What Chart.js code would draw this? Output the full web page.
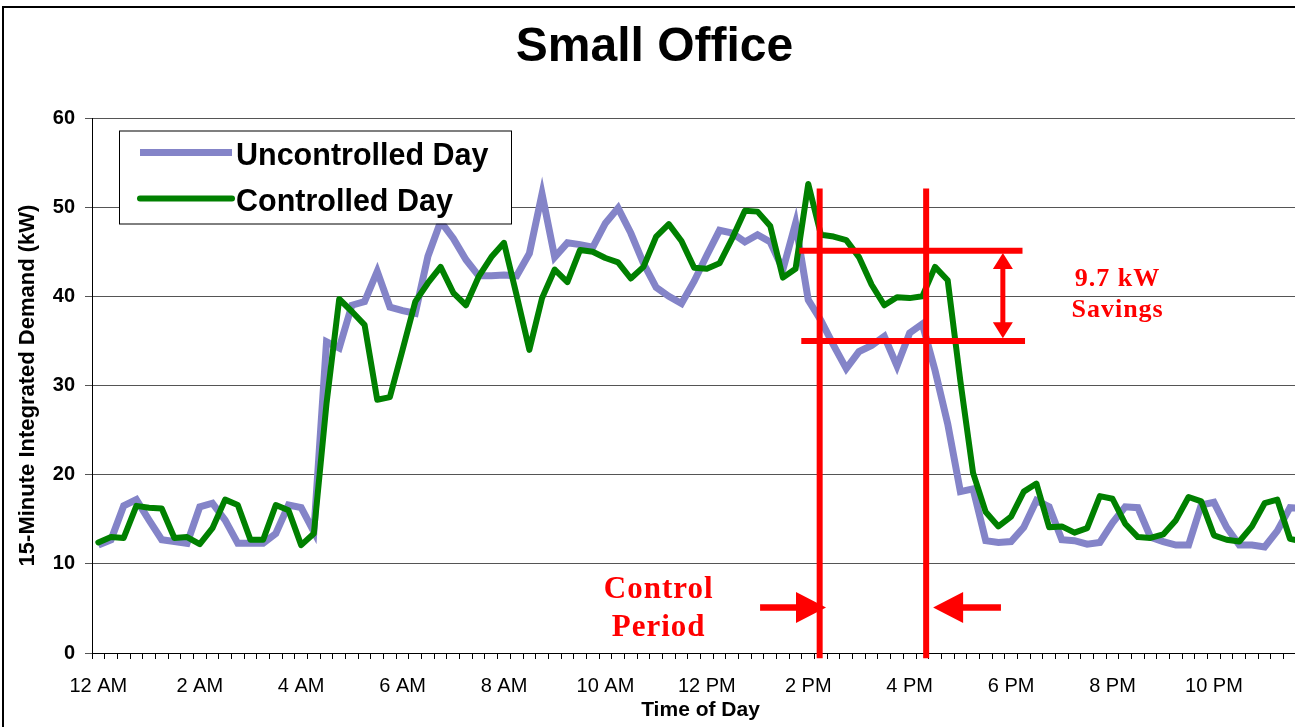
<!DOCTYPE html>
<html>
<head>
<meta charset="utf-8">
<title>Small Office</title>
<script src="https://cdn.jsdelivr.net/npm/chart.js@4/dist/chart.umd.min.js"></script>
<style>
  html, body { margin: 0; padding: 0; overflow: hidden; background: #fff; }
  #frame { position: absolute; left: 2px; top: 6px; width: 1400px; height: 800px; border-left: 2px solid #000; border-top: 2px solid #000; }
  #chart { position: absolute; left: 0; top: 0; }
</style>
</head>
<body>
<div id="frame"></div>
<canvas id="chart" width="1330" height="727"></canvas>
<script>
// 15-minute slots over one day (slot 0 = 12:00 AM)
const slotLabels = [];
for (let h = 0; h < 24; h++) {
  for (let m = 0; m < 60; m += 15) {
    slotLabels.push(String(h).padStart(2, "0") + ":" + String(m).padStart(2, "0"));
  }
}

// one label every 2 hours
const tickLabels = ["12 AM", "2 AM", "4 AM", "6 AM", "8 AM", "10 AM",
  "12 PM", "2 PM", "4 PM", "6 PM", "8 PM", "10 PM"];

const uncontrolled = [
  12.1, 12.7, 16.5, 17.2, 14.9, 12.7, 12.5, 12.3, 16.4, 16.8, 14.9, 12.3,
  12.3, 12.3, 13.4, 16.6, 16.3, 13.6, 34.9, 34.2, 39.0, 39.4, 42.8, 38.8,
  38.4, 38.1, 44.5, 48.4, 46.5, 44.1, 42.3, 42.3, 42.4, 42.3, 44.8, 51.5,
  44.4, 46.0, 45.8, 45.5, 48.2, 49.9, 47.1, 43.7, 41.0, 40.0, 39.2, 41.7,
  44.6, 47.4, 47.1, 46.1, 46.9, 46.1, 43.0, 48.2, 39.6, 37.3, 34.5, 31.9,
  33.8, 34.5, 35.5, 32.2, 35.9, 36.9, 31.7, 25.7, 18.1, 18.4, 12.6, 12.4,
  12.5, 14.1, 17.1, 16.4, 12.7, 12.6, 12.2, 12.4, 14.6, 16.4, 16.3, 13.0,
  12.5, 12.1, 12.1, 16.6, 16.9, 14.1, 12.1, 12.1, 11.9, 13.7, 16.3, 16.2
];

const controlled = [
  12.4, 13.0, 12.9, 16.5, 16.3, 16.2, 12.9, 13.0, 12.2, 14.0, 17.2, 16.6,
  12.7, 12.7, 16.6, 16.0, 12.1, 13.4, 28.0, 39.7, 38.3, 36.8, 28.4, 28.7,
  34.0, 39.4, 41.5, 43.3, 40.4, 39.0, 42.2, 44.4, 46.0, 40.1, 34.0, 39.8,
  43.0, 41.6, 45.2, 45.0, 44.3, 43.8, 42.0, 43.3, 46.7, 48.1, 46.2, 43.2,
  43.1, 43.7, 46.5, 49.6, 49.5, 47.9, 42.1, 43.1, 52.6, 46.9, 46.7, 46.3,
  44.4, 41.3, 39.0, 39.9, 39.8, 40.0, 43.3, 41.8, 30.5, 20.2, 15.8, 14.2,
  15.3, 18.1, 19.0, 14.1, 14.2, 13.5, 14.0, 17.6, 17.3, 14.5, 13.0, 12.9,
  13.3, 14.9, 17.5, 17.0, 13.2, 12.7, 12.5, 14.2, 16.8, 17.2, 12.8, 12.5
];

// red markup, in (slot, kW) units
const redLines = [
  [56.9, 52.1, 56.9, -0.6],
  [65.3, 52.1, 65.3, -0.6],
  [55.3, 45.1, 72.9, 45.1],
  [55.45, 35.0, 73.1, 35.0]
];
const savingsArrow = { slot: 71.35, top: 44.85, bottom: 35.3 };
const periodArrows = [
  { from: 52.2, to: 57.4, kW: 5.1 },
  { from: 71.2, to: 65.85, kW: 5.1 }
];
const notes = [
  { lines: ["9.7 kW", "Savings"], slot: 80.4, kW: [41.2, 37.65], size: 26 },
  { lines: ["Control", "Period"], slot: 44.2, kW: [6.17, 1.91], size: 31 }
];

const sans = '"Liberation Sans", Arial, sans-serif';
const RED = "#FF0000";

function arrowHead(ctx, tx, ty, dx, dy, len, half) {
  const bx = tx - dx * len, by = ty - dy * len;
  ctx.beginPath();
  ctx.moveTo(tx, ty);
  ctx.lineTo(bx - dy * half, by + dx * half);
  ctx.lineTo(bx + dy * half, by - dx * half);
  ctx.closePath();
  ctx.fill();
}

const boxedLegend = {
  id: "boxedLegend",
  afterDatasetsDraw(chart) {
    const { ctx, chartArea } = chart;
    const left = chartArea.left + 27, top = chartArea.top + 12.5;
    ctx.save();
    ctx.fillStyle = "#fff";
    ctx.strokeStyle = "#000";
    ctx.lineWidth = 1;
    ctx.fillRect(left, top, 392, 93);
    ctx.strokeRect(left + 0.5, top + 0.5, 392, 93);
    const order = [0, 1];
    order.forEach((idx, row) => {
      const ds = chart.data.datasets[idx];
      const y = top + 22 + row * 46;
      ctx.beginPath();
      ctx.moveTo(left + 21, y);
      ctx.lineTo(left + 113, y);
      ctx.strokeStyle = ds.borderColor;
      ctx.lineWidth = ds.borderWidth;
      ctx.lineCap = ds.borderCapStyle || "butt";
      ctx.stroke();
      ctx.fillStyle = "#000";
      ctx.font = "bold 30.5px " + sans;
      ctx.textAlign = "left";
      ctx.textBaseline = "middle";
      ctx.fillText(ds.label, left + 117, y + 4);
    });
    ctx.restore();
  }
};

const markup = {
  id: "markup",
  afterDatasetsDraw(chart) {
    const { ctx } = chart;
    const x = chart.scales.x, y = chart.scales.y;
    ctx.save();
    ctx.strokeStyle = RED;
    ctx.fillStyle = RED;
    ctx.lineWidth = 6;
    redLines.forEach(([s1, v1, s2, v2]) => {
      ctx.beginPath();
      ctx.moveTo(x.getPixelForValue(s1), y.getPixelForValue(v1));
      ctx.lineTo(x.getPixelForValue(s2), y.getPixelForValue(v2));
      ctx.stroke();
    });

    // double arrow for the savings
    const ax = x.getPixelForValue(savingsArrow.slot);
    const ay1 = y.getPixelForValue(savingsArrow.top);
    const ay2 = y.getPixelForValue(savingsArrow.bottom);
    ctx.lineWidth = 5;
    ctx.beginPath();
    ctx.moveTo(ax, ay1 + 14);
    ctx.lineTo(ax, ay2 - 14);
    ctx.stroke();
    arrowHead(ctx, ax, ay1, 0, -1, 16, 10);
    arrowHead(ctx, ax, ay2, 0, 1, 16, 10);

    // control period arrows
    periodArrows.forEach((a) => {
      const x1 = x.getPixelForValue(a.from), x2 = x.getPixelForValue(a.to);
      const py = y.getPixelForValue(a.kW);
      const dir = x2 > x1 ? 1 : -1;
      ctx.lineWidth = 6.5;
      ctx.beginPath();
      ctx.moveTo(x1, py);
      ctx.lineTo(x2 - dir * 28, py);
      ctx.stroke();
      arrowHead(ctx, x2, py, dir, 0, 30, 15.5);
    });

    notes.forEach((n) => {
      ctx.font = "bold " + n.size + 'px "Liberation Serif", "Times New Roman", serif';
      ctx.letterSpacing = "1px";
      ctx.textAlign = "center";
      ctx.textBaseline = "alphabetic";
      n.lines.forEach((t, i) => {
        ctx.fillText(t, x.getPixelForValue(n.slot), y.getPixelForValue(n.kW[i]));
      });
    });
    ctx.restore();
  }
};

new Chart(document.getElementById("chart"), {
  type: "line",
  data: {
    labels: slotLabels,
    datasets: [
      {
        label: "Uncontrolled Day",
        data: uncontrolled,
        borderColor: "#8484C8",
        borderWidth: 7,
        borderJoinStyle: "miter",
        pointRadius: 0,
        order: 1
      },
      {
        label: "Controlled Day",
        data: controlled,
        borderColor: "#008000",
        borderWidth: 6,
        borderJoinStyle: "round",
        borderCapStyle: "round",
        pointRadius: 0,
        order: 0
      }
    ]
  },
  options: {
    responsive: false,
    animation: false,
    devicePixelRatio: 1,
    layout: { padding: { left: 0, right: 21, top: 0, bottom: 0 } },
    elements: { line: { tension: 0 } },
    plugins: {
      legend: { display: false },
      tooltip: { enabled: false },
      title: {
        display: true,
        text: "Small Office",
        color: "#000",
        font: { family: sans, size: 48, weight: "bold", lineHeight: 1.2 },
        padding: { top: 19, bottom: 41.4 }
      }
    },
    scales: {
      x: {
        type: "category",
        offset: true,
        grid: { offset: true, drawOnChartArea: false, tickLength: 6, color: "#000", lineWidth: 1 },
        border: { color: "#000", width: 1 },
        ticks: {
          autoSkip: false,
          maxRotation: 0,
          minRotation: 0,
          padding: 15,
          color: "#000",
          font: { family: sans, size: 20 },
          callback: (value, index) => (index % 8 === 0 ? tickLabels[index / 8] : "")
        },
        title: {
          display: true,
          text: "Time of Day",
          color: "#000",
          font: { family: sans, size: 21, weight: "bold", lineHeight: 1.2 },
          padding: { top: 0, bottom: 4 }
        },
        afterFit: (scale) => { scale.height = 74; }
      },
      y: {
        min: 0,
        max: 60,
        ticks: {
          stepSize: 10,
          padding: 10,
          color: "#000",
          font: { family: sans, size: 20, weight: "bold" }
        },
        grid: { color: "#555", tickLength: 7, lineWidth: 1 },
        border: { color: "#000", width: 1 },
        title: {
          display: true,
          text: "15-Minute Integrated Demand (kW)",
          color: "#000",
          font: { family: sans, size: 22, weight: "bold", lineHeight: 1.2 },
          padding: { top: 15, bottom: 0 }
        },
        afterFit: (scale) => { scale.width = 92; }
      }
    }
  },
  plugins: [boxedLegend, markup]
});
</script>
</body>
</html>
